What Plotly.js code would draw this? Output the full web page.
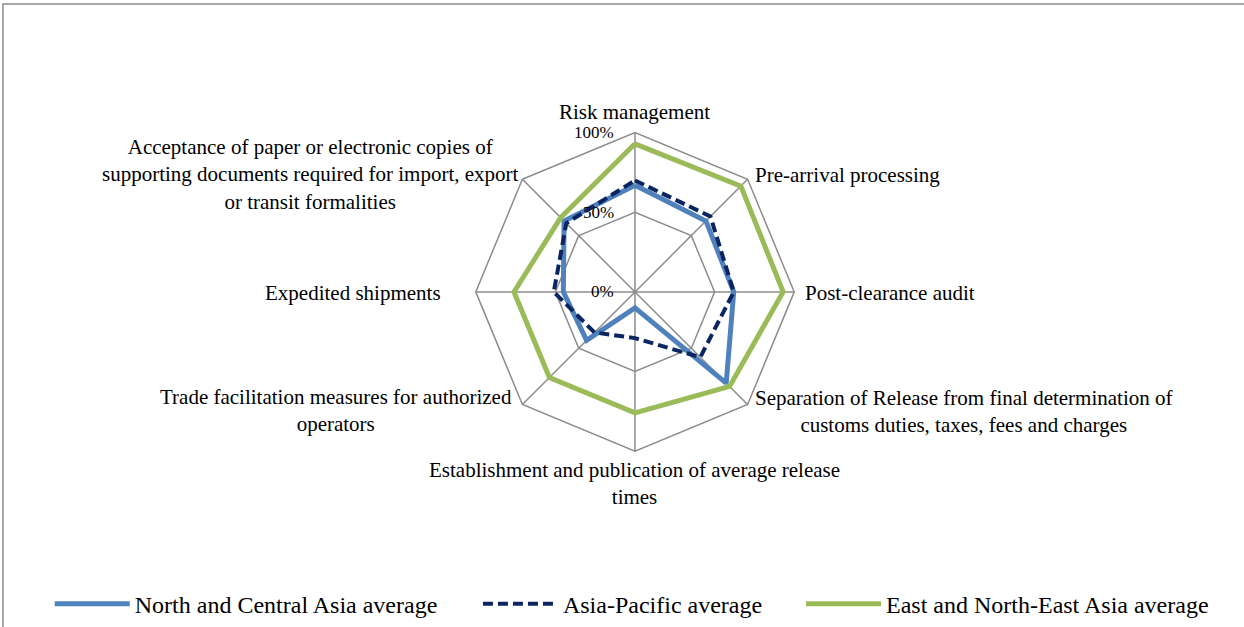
<!DOCTYPE html>
<html>
<head>
<meta charset="utf-8">
<script src="https://cdn.plot.ly/plotly-3.0.1.min.js"></script>
<style>
  html, body { margin: 0; padding: 0; background: #ffffff; }
  #chart { width: 1244px; height: 627px; }
</style>
</head>
<body>
<div id="chart"></div>
<script>
// ---- Data ----
var categories = [
  "Risk management",
  "Pre-arrival processing",
  "Post-clearance audit",
  "Separation of Release from final determination of customs duties, taxes, fees and charges",
  "Establishment and publication of average release times",
  "Trade facilitation measures for authorized operators",
  "Expedited shipments",
  "Acceptance of paper or electronic copies of supporting documents required for import, export or transit formalities"
];
var seriesNames = [
  "North and Central Asia average",
  "Asia-Pacific average",
  "East and North-East Asia average"
];
var northCentralAsia = [0.67, 0.63, 0.62, 0.81, 0.10, 0.43, 0.45, 0.63];
var asiaPacific      = [0.70, 0.67, 0.62, 0.58, 0.29, 0.36, 0.51, 0.61];
var eastNorthEast    = [0.93, 0.94, 0.93, 0.84, 0.76, 0.76, 0.76, 0.66];
var radialTicks = [0, 0.5, 1];
var radialTickLabels = ["0%", "50%", "100%"];

// ---- Label layout (wrapped text + placement) ----
var labelLines = [
  ["Risk management"],
  ["Pre-arrival processing"],
  ["Post-clearance audit"],
  ["Separation of Release from final determination of", "customs duties, taxes, fees and charges"],
  ["Establishment and publication of average release", "times"],
  ["Trade facilitation measures for authorized", "operators"],
  ["Expedited shipments"],
  ["Acceptance of paper or electronic copies of", "supporting documents required for import, export", "or transit formalities"]
];
var labelPos = [
  {x: 0.5104, y: 0.8198, xa: "center"},
  {x: 0.6053, y: 0.7193, xa: "left"},
  {x: 0.6455, y: 0.5311, xa: "left"},
  {x: 0.6053, y: 0.3413, xa: "left"},
  {x: 0.5104, y: 0.2249, xa: "center"},
  {x: 0.4132, y: 0.3421, xa: "right"},
  {x: 0.3561, y: 0.5311, xa: "right"},
  {x: 0.4188, y: 0.7209, xa: "right"}
];
var legendX = [0.040, 0.3842, 0.6439];
var polarDomain = {x: [0.3818, 0.6391], y: [0.2770, 0.7874]};
var tickLabelRight = 0.4952;

function closed(arr) { return arr.concat([arr[0]]); }

var FONT = "Liberation Serif, Times New Roman, serif";

var traces = [
  {
    type: "scatterpolar", mode: "lines", name: seriesNames[0], legend: "legend",
    r: closed(northCentralAsia), theta: closed(categories),
    line: {color: "#4F81BD", width: 5}
  },
  {
    type: "scatterpolar", mode: "lines", name: seriesNames[1], legend: "legend2",
    r: closed(asiaPacific), theta: closed(categories),
    line: {color: "#0B2562", width: 4, dash: "10px,5px"}
  },
  {
    type: "scatterpolar", mode: "lines", name: seriesNames[2], legend: "legend3",
    r: closed(eastNorthEast), theta: closed(categories),
    line: {color: "#9BBB59", width: 5}
  }
];

var annotations = labelLines.map(function (lines, i) {
  return {
    xref: "paper", yref: "paper",
    x: labelPos[i].x, y: labelPos[i].y,
    xanchor: labelPos[i].xa, yanchor: "middle",
    align: "center",
    text: lines.join("<br>"),
    showarrow: false,
    font: {family: FONT, size: 21, color: "#000000"}
  };
});

// radial tick labels, placed along the vertical (90°) radial axis
var cy = (polarDomain.y[0] + polarDomain.y[1]) / 2;
var ry = (polarDomain.y[1] - polarDomain.y[0]) / 2;
radialTicks.forEach(function (v, i) {
  annotations.push({
    xref: "paper", yref: "paper",
    x: tickLabelRight, y: cy + v * ry,
    xanchor: "right", yanchor: "middle",
    text: radialTickLabels[i], showarrow: false,
    font: {family: FONT, size: 17, color: "#000000"}
  });
});

function legendCfg(x) {
  return {
    orientation: "h", x: x, y: 0.032, xanchor: "left", yanchor: "middle",
    font: {family: FONT, size: 24, color: "#000000"},
    itemwidth: 75, bgcolor: "rgba(0,0,0,0)"
  };
}

var layout = {
  width: 1244, height: 627,
  margin: {l: 0, r: 0, t: 0, b: 0},
  paper_bgcolor: "#ffffff",
  font: {family: FONT, color: "#000000"},
  showlegend: true,
  legend: legendCfg(legendX[0]),
  legend2: legendCfg(legendX[1]),
  legend3: legendCfg(legendX[2]),
  polar: {
    domain: polarDomain,
    gridshape: "linear",
    bgcolor: "rgba(0,0,0,0)",
    angularaxis: {
      direction: "clockwise", rotation: 90,
      showticklabels: false, ticks: "",
      showline: true, linecolor: "#8C8C8C", linewidth: 1.5,
      showgrid: true, gridcolor: "#8C8C8C", gridwidth: 1.5
    },
    radialaxis: {
      range: [0, 1], angle: 90,
      tickvals: radialTicks, showticklabels: false,
      showline: false, ticks: "",
      showgrid: true, gridcolor: "#8C8C8C", gridwidth: 1.5
    }
  },
  annotations: annotations,
  shapes: [{
    type: "rect", xref: "paper", yref: "paper",
    x0: 3 / 1244, x1: 1.02, y0: -0.05, y1: 1 - 4 / 627,
    line: {color: "#8C8C8C", width: 1.5}, fillcolor: "rgba(0,0,0,0)"
  }]
};

Plotly.newPlot("chart", traces, layout, {displayModeBar: false, staticPlot: true});
</script>
</body>
</html>
